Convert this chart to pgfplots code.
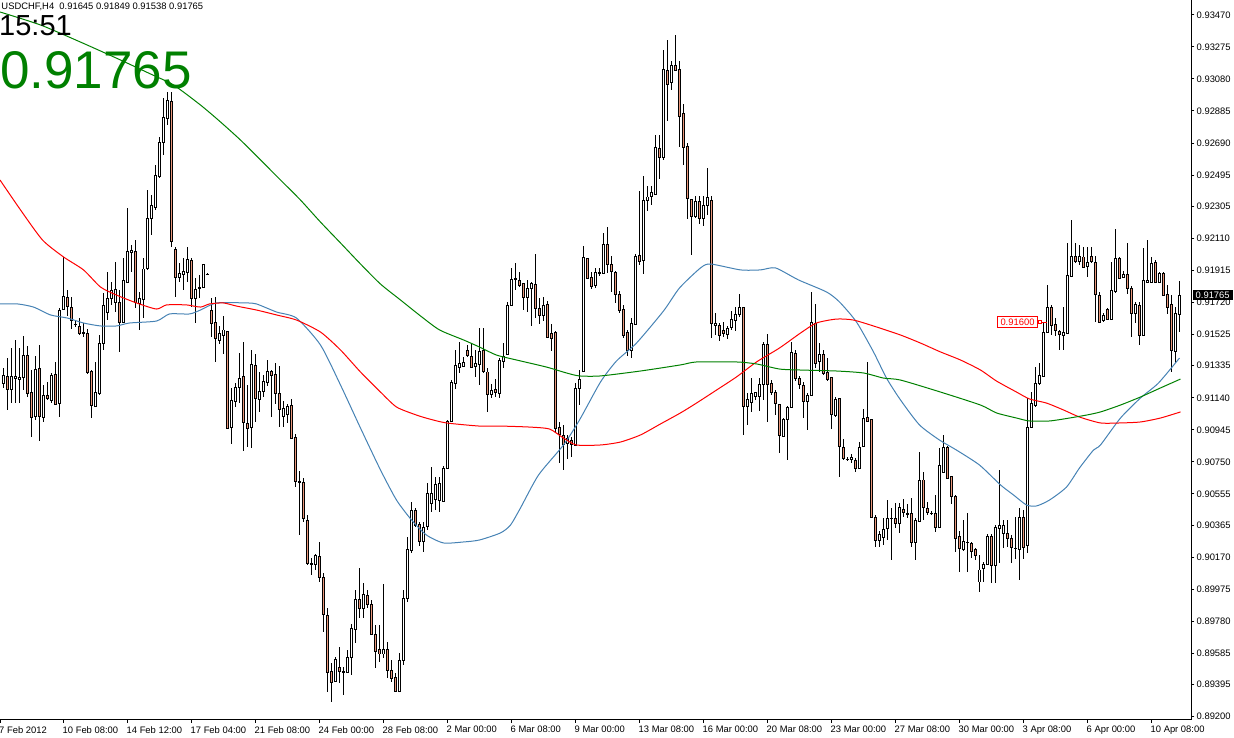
\documentclass[border=0pt]{standalone}
\usepackage{fontspec}
\setmainfont{Liberation Sans}
\usepackage{pgfplots}
\usepackage{pgfplotstable}
\pgfplotsset{compat=1.18}
\definecolor{bearfill}{HTML}{E9967A}
\definecolor{mablue}{HTML}{4682B4}
\definecolor{mared}{HTML}{FF0000}
\definecolor{magreen}{HTML}{008000}
\newcommand\lf{\fontsize{9.4}{11}\selectfont}
\pgfplotstableread{
i o h l c
0 0.91230 0.91321 0.91200 0.91279
1 0.91273 0.91382 0.91066 0.91194
2 0.91194 0.91443 0.91108 0.91273
3 0.91260 0.91492 0.91108 0.91273
4 0.91254 0.91443 0.91108 0.91267
5 0.91267 0.91516 0.91187 0.91400
6 0.91400 0.91455 0.91145 0.91169
7 0.91175 0.91309 0.90902 0.91023
8 0.91029 0.91394 0.91005 0.91315
9 0.91321 0.91461 0.90877 0.91029
10 0.91023 0.91218 0.90993 0.91157
11 0.91157 0.91236 0.91127 0.91139
12 0.91127 0.91291 0.91108 0.91279
13 0.91285 0.91358 0.91096 0.91102
14 0.91108 0.91686 0.91023 0.91674
15 0.91680 0.91997 0.91674 0.91759
16 0.91753 0.91796 0.91638 0.91698
17 0.91692 0.91753 0.91559 0.91613
18 0.91589 0.91607 0.91571 0.91589
19 0.91577 0.91625 0.91522 0.91534
20 0.91534 0.91595 0.91510 0.91540
21 0.91528 0.91559 0.91285 0.91291
22 0.91303 0.91309 0.91017 0.91096
23 0.91090 0.91358 0.91084 0.91175
24 0.91169 0.91522 0.91157 0.91473
25 0.91473 0.91778 0.91431 0.91705
26 0.91662 0.91905 0.91613 0.91747
27 0.91747 0.91844 0.91705 0.91796
28 0.91723 0.91966 0.91662 0.91802
29 0.91723 0.91796 0.91419 0.91601
30 0.91601 0.91990 0.91595 0.91857
31 0.91844 0.92295 0.91838 0.92033
32 0.92027 0.92070 0.91905 0.92039
33 0.92027 0.92100 0.91686 0.91717
34 0.91717 0.91784 0.91553 0.91747
35 0.91741 0.91990 0.91625 0.91924
36 0.91930 0.92404 0.91918 0.92234
37 0.92234 0.92374 0.92131 0.92313
38 0.92301 0.92556 0.92283 0.92495
39 0.92489 0.92727 0.92477 0.92696
40 0.92696 0.92964 0.92617 0.92848
41 0.92842 0.93000 0.92800 0.92946
42 0.92946 0.93000 0.92057 0.92094
43 0.92045 0.92057 0.91753 0.91875
44 0.91869 0.91960 0.91844 0.91899
45 0.91893 0.91990 0.91796 0.91911
46 0.91905 0.92057 0.91844 0.91984
47 0.91978 0.91990 0.91692 0.91747
48 0.91747 0.91869 0.91595 0.91802
49 0.91802 0.91887 0.91747 0.91808
50 0.91808 0.91954 0.91808 0.91948
51 0.91893 0.91899 0.91887 0.91893
52 0.91674 0.91747 0.91510 0.91595
53 0.91601 0.91753 0.91358 0.91504
54 0.91492 0.91577 0.91467 0.91534
55 0.91522 0.91638 0.91406 0.91553
56 0.91546 0.91546 0.90950 0.90956
57 0.90962 0.91200 0.90859 0.91127
58 0.91121 0.91230 0.91084 0.91206
59 0.91200 0.91413 0.91108 0.91260
60 0.91267 0.91479 0.90816 0.90987
61 0.90987 0.91218 0.90841 0.90956
62 0.90962 0.91431 0.90835 0.91346
63 0.91340 0.91406 0.90993 0.91139
64 0.91133 0.91297 0.91054 0.91181
65 0.91181 0.91279 0.91145 0.91242
66 0.91236 0.91370 0.91212 0.91303
67 0.91303 0.91309 0.91023 0.91279
68 0.91285 0.91352 0.91102 0.91169
69 0.91169 0.91333 0.90962 0.91072
70 0.91029 0.91121 0.90962 0.91078
71 0.91041 0.91102 0.90987 0.91090
72 0.91096 0.91133 0.90889 0.90895
73 0.90902 0.90920 0.90597 0.90634
74 0.90634 0.90695 0.90305 0.90628
75 0.90628 0.90652 0.90384 0.90409
76 0.90397 0.90427 0.90123 0.90135
77 0.90129 0.90166 0.90062 0.90135
78 0.90129 0.90190 0.90093 0.90184
79 0.90172 0.90263 0.90020 0.90044
80 0.90050 0.90074 0.89715 0.89825
81 0.89819 0.89861 0.89350 0.89472
82 0.89478 0.89527 0.89290 0.89411
83 0.89417 0.89563 0.89417 0.89551
84 0.89502 0.89624 0.89405 0.89478
85 0.89478 0.89502 0.89332 0.89472
86 0.89472 0.89606 0.89466 0.89563
87 0.89563 0.89764 0.89454 0.89740
88 0.89734 0.89971 0.89648 0.89916
89 0.89916 0.90105 0.89800 0.89861
90 0.89861 0.90013 0.89800 0.89946
91 0.89940 0.89971 0.89861 0.89886
92 0.89886 0.89910 0.89697 0.89703
93 0.89703 0.89758 0.89496 0.89600
94 0.89606 0.89758 0.89533 0.89581
95 0.89581 0.90007 0.89557 0.89606
96 0.89606 0.89654 0.89435 0.89484
97 0.89484 0.89545 0.89411 0.89435
98 0.89442 0.89466 0.89350 0.89356
99 0.89356 0.89588 0.89350 0.89545
100 0.89545 0.89971 0.89515 0.89922
101 0.89922 0.90293 0.89898 0.90220
102 0.90214 0.90506 0.90196 0.90457
103 0.90457 0.90470 0.90354 0.90366
104 0.90372 0.90384 0.90238 0.90269
105 0.90269 0.90384 0.90202 0.90354
106 0.90360 0.90622 0.90336 0.90561
107 0.90500 0.90719 0.90445 0.90561
108 0.90524 0.90658 0.90457 0.90610
109 0.90518 0.90658 0.90445 0.90616
110 0.90512 0.90725 0.90512 0.90713
111 0.90713 0.91005 0.90713 0.90999
112 0.90999 0.91248 0.90993 0.91236
113 0.91230 0.91431 0.91194 0.91340
114 0.91327 0.91479 0.91291 0.91352
115 0.91333 0.91388 0.91327 0.91358
116 0.91431 0.91461 0.91388 0.91400
117 0.91394 0.91473 0.91321 0.91327
118 0.91333 0.91431 0.91267 0.91352
119 0.91346 0.91565 0.91218 0.91425
120 0.91425 0.91565 0.91291 0.91303
121 0.91297 0.91321 0.91054 0.91163
122 0.91163 0.91224 0.91139 0.91187
123 0.91194 0.91254 0.91145 0.91175
124 0.91169 0.91382 0.91139 0.91370
125 0.91358 0.91473 0.91321 0.91394
126 0.91406 0.91723 0.91400 0.91705
127 0.91705 0.91930 0.91698 0.91863
128 0.91857 0.91960 0.91796 0.91863
129 0.91857 0.91905 0.91814 0.91826
130 0.91832 0.91838 0.91674 0.91747
131 0.91753 0.91857 0.91662 0.91808
132 0.91802 0.91844 0.91577 0.91838
133 0.91832 0.92015 0.91625 0.91686
134 0.91686 0.91747 0.91589 0.91644
135 0.91644 0.91753 0.91607 0.91705
136 0.91711 0.91729 0.91504 0.91510
137 0.91534 0.91589 0.91425 0.91504
138 0.91540 0.91546 0.90926 0.90956
139 0.90962 0.90993 0.90744 0.90914
140 0.90914 0.90975 0.90701 0.90859
141 0.90865 0.90914 0.90768 0.90895
142 0.90883 0.90902 0.90780 0.90853
143 0.90853 0.91230 0.90853 0.91200
144 0.91200 0.91309 0.91096 0.91254
145 0.91303 0.92064 0.91297 0.91997
146 0.91990 0.91990 0.91863 0.91869
147 0.91875 0.91905 0.91802 0.91820
148 0.91826 0.91930 0.91808 0.91905
149 0.91899 0.91930 0.91881 0.91905
150 0.91899 0.92143 0.91899 0.92076
151 0.92070 0.92179 0.91899 0.91948
152 0.91954 0.92003 0.91784 0.91911
153 0.91905 0.91911 0.91717 0.91771
154 0.91771 0.91790 0.91656 0.91674
155 0.91680 0.91705 0.91504 0.91522
156 0.91534 0.91553 0.91394 0.91425
157 0.91425 0.91625 0.91382 0.91595
158 0.91589 0.92015 0.91583 0.92003
159 0.92009 0.92398 0.91948 0.91972
160 0.91978 0.92489 0.91893 0.92343
161 0.92343 0.92428 0.92276 0.92362
162 0.92362 0.92428 0.92313 0.92386
163 0.92380 0.92739 0.92380 0.92666
164 0.92660 0.92739 0.92471 0.92605
165 0.92599 0.93256 0.92587 0.93134
166 0.93134 0.93317 0.92824 0.93049
167 0.93061 0.93189 0.93013 0.93165
168 0.93159 0.93347 0.93128 0.93134
169 0.93140 0.93189 0.92666 0.92854
170 0.92867 0.92927 0.92556 0.92666
171 0.92666 0.92690 0.92228 0.92350
172 0.92350 0.92350 0.92009 0.92246
173 0.92246 0.92368 0.92234 0.92337
174 0.92337 0.92368 0.92197 0.92234
175 0.92234 0.92368 0.92185 0.92313
176 0.92313 0.92538 0.92252 0.92356
177 0.92343 0.92368 0.91504 0.91595
178 0.91583 0.91656 0.91522 0.91595
179 0.91583 0.91595 0.91486 0.91522
180 0.91553 0.91601 0.91510 0.91534
181 0.91528 0.91577 0.91498 0.91565
182 0.91571 0.91668 0.91553 0.91619
183 0.91613 0.91692 0.91546 0.91650
184 0.91650 0.91771 0.91632 0.91692
185 0.91692 0.91692 0.90914 0.91090
186 0.91090 0.91169 0.90975 0.91133
187 0.91114 0.91260 0.91054 0.91169
188 0.91151 0.91175 0.91127 0.91175
189 0.91151 0.91260 0.91060 0.91224
190 0.91224 0.91479 0.91127 0.91467
191 0.91467 0.91528 0.90993 0.91224
192 0.91230 0.91248 0.91157 0.91175
193 0.91175 0.91187 0.91035 0.91108
194 0.91102 0.91102 0.90804 0.90908
195 0.90908 0.91017 0.90902 0.91011
196 0.91011 0.91090 0.90762 0.91084
197 0.91084 0.91479 0.91078 0.91419
198 0.91413 0.91431 0.91242 0.91260
199 0.91260 0.91273 0.91194 0.91224
200 0.91218 0.91236 0.91017 0.91121
201 0.91121 0.91169 0.90944 0.91157
202 0.91157 0.91784 0.91151 0.91601
203 0.91595 0.91711 0.91321 0.91352
204 0.91358 0.91473 0.91297 0.91406
205 0.91406 0.91431 0.91279 0.91291
206 0.91297 0.91382 0.91242 0.91254
207 0.91267 0.91267 0.90950 0.91041
208 0.91035 0.91145 0.91023 0.91133
209 0.91133 0.91139 0.90658 0.90841
210 0.90841 0.90889 0.90762 0.90774
211 0.90768 0.90780 0.90756 0.90768
212 0.90768 0.90798 0.90744 0.90780
213 0.90762 0.90774 0.90689 0.90713
214 0.90713 0.90871 0.90707 0.90841
215 0.90841 0.91072 0.90841 0.91017
216 0.91023 0.91358 0.90999 0.90999
217 0.91011 0.91011 0.90409 0.90415
218 0.90415 0.90427 0.90232 0.90275
219 0.90269 0.90330 0.90232 0.90311
220 0.90293 0.90409 0.90245 0.90342
221 0.90348 0.90518 0.90275 0.90409
222 0.90409 0.90470 0.90153 0.90409
223 0.90409 0.90500 0.90348 0.90378
224 0.90378 0.90500 0.90318 0.90470
225 0.90464 0.90524 0.90415 0.90445
226 0.90433 0.90494 0.90409 0.90439
227 0.90439 0.90530 0.90232 0.90263
228 0.90263 0.90409 0.90153 0.90397
229 0.90391 0.90810 0.90384 0.90640
230 0.90640 0.90689 0.90397 0.90470
231 0.90470 0.90506 0.90427 0.90445
232 0.90439 0.90451 0.90427 0.90439
233 0.90439 0.90549 0.90324 0.90354
234 0.90354 0.90835 0.90354 0.90731
235 0.90689 0.90914 0.90689 0.90841
236 0.90841 0.90847 0.90652 0.90652
237 0.90658 0.90658 0.90494 0.90537
238 0.90543 0.90549 0.90202 0.90287
239 0.90299 0.90330 0.90080 0.90226
240 0.90220 0.90397 0.90208 0.90269
241 0.90263 0.90439 0.90080 0.90263
242 0.90257 0.90263 0.90166 0.90208
243 0.90220 0.90226 0.90153 0.90184
244 0.90020 0.90184 0.89959 0.90093
245 0.90099 0.90141 0.90020 0.90123
246 0.90129 0.90311 0.90123 0.90299
247 0.90299 0.90311 0.90013 0.90123
248 0.90123 0.90366 0.90013 0.90354
249 0.90348 0.90701 0.90135 0.90366
250 0.90318 0.90397 0.90226 0.90366
251 0.90318 0.90397 0.90232 0.90287
252 0.90287 0.90305 0.90135 0.90232
253 0.90226 0.90415 0.90159 0.90226
254 0.90220 0.90470 0.90032 0.90415
255 0.90415 0.90457 0.90159 0.90232
256 0.90245 0.91139 0.90196 0.90962
257 0.90962 0.91175 0.90962 0.91108
258 0.91096 0.91327 0.91084 0.91230
259 0.91230 0.91352 0.91218 0.91279
260 0.91273 0.91601 0.91267 0.91540
261 0.91540 0.91826 0.91534 0.91692
262 0.91692 0.91705 0.91522 0.91583
263 0.91589 0.91625 0.91516 0.91553
264 0.91546 0.91553 0.91431 0.91528
265 0.91522 0.91692 0.91431 0.91540
266 0.91534 0.92082 0.91528 0.91887
267 0.91875 0.92222 0.91875 0.91997
268 0.91997 0.92082 0.91960 0.91966
269 0.91966 0.92070 0.91948 0.91997
270 0.91997 0.92057 0.91930 0.91936
271 0.91936 0.92057 0.91875 0.91966
272 0.91997 0.92057 0.91960 0.91966
273 0.91966 0.92003 0.91601 0.91771
274 0.91765 0.91784 0.91595 0.91601
275 0.91613 0.91656 0.91601 0.91644
276 0.91680 0.91686 0.91613 0.91619
277 0.91619 0.91966 0.91613 0.91796
278 0.91784 0.92167 0.91778 0.91990
279 0.91990 0.91997 0.91863 0.91869
280 0.91869 0.91911 0.91869 0.91893
281 0.91893 0.92082 0.91771 0.91808
282 0.91808 0.91820 0.91510 0.91656
283 0.91656 0.91723 0.91595 0.91711
284 0.91705 0.91723 0.91461 0.91522
285 0.91522 0.92051 0.91522 0.91857
286 0.91844 0.92100 0.91838 0.91857
287 0.91844 0.91997 0.91844 0.91960
288 0.91966 0.91978 0.91838 0.91844
289 0.91844 0.91905 0.91838 0.91899
290 0.91899 0.91905 0.91759 0.91765
291 0.91771 0.91826 0.91650 0.91692
292 0.91705 0.91765 0.91297 0.91425
293 0.91425 0.91692 0.91352 0.91656
294 0.91645 0.91849 0.91538 0.91765
}\candles
\begin{document}
\begin{tikzpicture}
\begin{axis}[
  at={(0pt,0pt)}, anchor=south west,
  scale only axis, width=1191.5pt, height=720pt,
  xmin=-0.875, xmax=297, ymin=0.89180, ymax=0.93560,
  axis x line=bottom, axis y line=right,
  axis line style={-, black, line width=1pt},
  tick align=outside, major tick length=3pt,
  tick style={black, line width=1pt},
  scaled y ticks=false, scaled x ticks=false,
  xtick={-0.875,15,31,47,63,79,95,111,127,143,159,175,191,207,223,239,255,271,287},
  xticklabels={7 Feb 2012,10 Feb 08:00,14 Feb 12:00,17 Feb 04:00,21 Feb 08:00,24 Feb 00:00,28 Feb 08:00,2 Mar 00:00,6 Mar 08:00,9 Mar 00:00,13 Mar 08:00,16 Mar 00:00,20 Mar 08:00,23 Mar 00:00,27 Mar 08:00,30 Mar 00:00,3 Apr 08:00,6 Apr 00:00,10 Apr 08:00},
  ytick={0.93470,0.93275,0.93080,0.92885,0.92690,0.92495,0.92305,0.92110,0.91915,0.91720,0.91525,0.91335,0.91140,0.90945,0.90750,0.90555,0.90365,0.90170,0.89975,0.89780,0.89585,0.89395,0.89200},
  yticklabels={0.93470,0.93275,0.93080,0.92885,0.92690,0.92495,0.92305,0.92110,0.91915,0.91720,0.91525,0.91335,0.91140,0.90945,0.90750,0.90555,0.90365,0.90170,0.89975,0.89780,0.89585,0.89395,0.89200},
  xticklabel style={anchor=north west, inner sep=0pt, xshift=-1pt, yshift=-3pt, font=\lf},
  yticklabel style={anchor=west, inner sep=0pt, xshift=2pt, font=\lf},
]
% wicks
\addplot[forget plot, draw=none, mark=none,
  error bars/.cd, y dir=both, y explicit, error mark=none,
  error bar style={draw=black, line width=1pt}]
  table[x=i, y expr={(\thisrow{h}+\thisrow{l})/2}, y error expr={(\thisrow{h}-\thisrow{l})/2}] {\candles};
% body outline
\addplot[forget plot, draw=none, mark=none,
  error bars/.cd, y dir=both, y explicit, error mark=none,
  error bar style={draw=black, line width=3pt}]
  table[x=i, y expr={(\thisrow{o}+\thisrow{c})/2}, y error expr={abs(\thisrow{c}-\thisrow{o})/2+0.00003}] {\candles};
% bull interior
\addplot[forget plot, draw=none, mark=none,
  error bars/.cd, y dir=both, y explicit, error mark=none,
  error bar style={draw=white, line width=1pt}]
  table[x=i, y expr={(\thisrow{o}+\thisrow{c})/2}, y error expr={(\thisrow{c}>\thisrow{o})*max(abs(\thisrow{c}-\thisrow{o})/2-0.00003,0)}] {\candles};
% bear interior
\addplot[forget plot, draw=none, mark=none,
  error bars/.cd, y dir=both, y explicit, error mark=none,
  error bar style={draw=bearfill, line width=1pt}]
  table[x=i, y expr={(\thisrow{o}+\thisrow{c})/2}, y error expr={(\thisrow{c}<\thisrow{o})*max(abs(\thisrow{c}-\thisrow{o})/2-0.00003,0)}] {\candles};
% moving averages
\addplot[mablue, line width=1pt, smooth, tension=0.4] coordinates {
(-0.875,0.91711)(3.5,0.91711)(7.5,0.91692)(11.75,0.91644)(16,0.91625)(20,0.91595)(24.25,0.91577)(28.25,0.91577)(31.5,0.91595)(38.25,0.91607)(41.5,0.91650)(46.5,0.91650)(49.25,0.91674)(53.25,0.91717)(60.75,0.91717)(63.25,0.91711)(68.25,0.91662)(73.25,0.91625)(79.25,0.91461)(84.25,0.91218)(89.25,0.90956)(94.25,0.90701)(98.25,0.90518)(102,0.90397)(105.75,0.90305)(110,0.90257)(115,0.90263)(119,0.90275)(124.25,0.90318)(126.75,0.90366)(129.25,0.90470)(133.75,0.90670)(140,0.90853)(144,0.91005)(149.25,0.91236)(153.25,0.91364)(158.25,0.91473)(165,0.91668)(169,0.91808)(174.25,0.91930)(176.75,0.91954)(184.25,0.91918)(189.25,0.91918)(193,0.91930)(198.75,0.91857)(205.75,0.91784)(209,0.91723)(213.25,0.91601)(217.5,0.91419)(220.75,0.91260)(224.25,0.91127)(229,0.90975)(234,0.90883)(238.25,0.90822)(244,0.90731)(249.25,0.90610)(252.5,0.90549)(255.75,0.90488)(258.25,0.90482)(261.5,0.90518)(265.75,0.90597)(269,0.90713)(272.5,0.90822)(274.25,0.90853)(279.25,0.91017)(284.25,0.91139)(288.75,0.91230)(294,0.91382)};
\addplot[mared, line width=1pt, smooth, tension=0.4] coordinates {
(-0.875,0.92465)(4.25,0.92283)(9.75,0.92100)(15,0.91997)(20,0.91918)(24.25,0.91814)(28.25,0.91765)(33.25,0.91717)(38.25,0.91680)(40.75,0.91705)(45.75,0.91705)(49.25,0.91692)(51.5,0.91711)(55,0.91717)(58.25,0.91698)(63.25,0.91674)(68.25,0.91644)(73.25,0.91613)(79.25,0.91540)(84.25,0.91431)(89.25,0.91297)(94.25,0.91175)(98.25,0.91084)(103.25,0.91035)(106.5,0.91011)(110.75,0.90987)(119,0.90968)(124.25,0.90968)(131.5,0.90962)(136.5,0.90950)(140,0.90895)(143.25,0.90853)(149.25,0.90853)(154.25,0.90871)(159.25,0.90914)(164.25,0.90981)(169.25,0.91048)(173.25,0.91108)(178.25,0.91187)(183.25,0.91267)(188.25,0.91358)(194,0.91443)(199.25,0.91534)(203.25,0.91595)(208.25,0.91619)(212.5,0.91613)(218.25,0.91571)(224.25,0.91522)(229.25,0.91473)(234.25,0.91419)(239.25,0.91370)(244.25,0.91309)(248.25,0.91242)(253.25,0.91175)(256.5,0.91133)(260.75,0.91108)(265,0.91066)(269,0.91023)(274.25,0.90987)(279.25,0.90987)(284.25,0.90993)(289.25,0.91017)(294.25,0.91054)};
\addplot[magreen, line width=1pt, smooth, tension=0.4] coordinates {
(-0.875,0.93487)(9.25,0.93408)(19.25,0.93304)(29.25,0.93195)(36.75,0.93110)(42.5,0.93043)(49.25,0.92921)(54.25,0.92818)(59.25,0.92708)(64.25,0.92587)(69.25,0.92465)(74.25,0.92343)(79.25,0.92209)(84.25,0.92082)(89.25,0.91954)(94.25,0.91832)(99.25,0.91735)(104.25,0.91638)(109,0.91553)(115,0.91492)(119,0.91449)(123.25,0.91400)(128.25,0.91370)(135.75,0.91327)(140.75,0.91291)(144,0.91273)(149.25,0.91273)(159.25,0.91303)(169.25,0.91340)(173.25,0.91358)(183.25,0.91358)(188.25,0.91346)(194,0.91315)(199.25,0.91309)(208.25,0.91303)(215,0.91291)(220,0.91260)(224.25,0.91248)(234.25,0.91175)(244.25,0.91096)(248.25,0.91048)(253.25,0.91017)(256.5,0.90999)(261.5,0.90999)(266.5,0.91017)(270.75,0.91035)(274.25,0.91054)(279.25,0.91096)(284.25,0.91145)(289.25,0.91200)(294.25,0.91254)};
% price label object
\draw[mared, line width=1pt] (axis cs:259.5,0.91600) -- (axis cs:261,0.91600);
\node[draw=mared, line width=0.8pt, minimum size=3pt, inner sep=0pt, fill=white] at (axis cs:259.1,0.91600) {};
\node[draw=mared, fill=white, text=mared, line width=1pt, inner xsep=3.5pt, inner ysep=2.2pt, font=\lf] at (axis cs:253.5,0.91600) {0.91600};
\coordinate (cp) at (axis cs:297,0.91765);
\end{axis}
\node[anchor=west, fill=black, text=white, inner xsep=3pt, inner ysep=2pt, font=\lf, xshift=1pt] at (cp) {0.91765};
\node[anchor=base west, inner sep=0pt, font=\lf] at (1.3pt,710pt) {USDCHF,H4\ \ 0.91645 0.91849 0.91538 0.91765};
\node[anchor=base west, inner sep=0pt, font=\fontsize{29}{30}\selectfont] at (-1pt,684pt) {15:51};
\node[anchor=base west, inner sep=0pt, text=magreen, font=\fontsize{53}{54}\selectfont] at (0pt,631pt) {0.91765};
\pgfresetboundingbox
\path[use as bounding box] (0pt,-18pt) rectangle (1234pt,720pt);
\end{tikzpicture}
\end{document}
